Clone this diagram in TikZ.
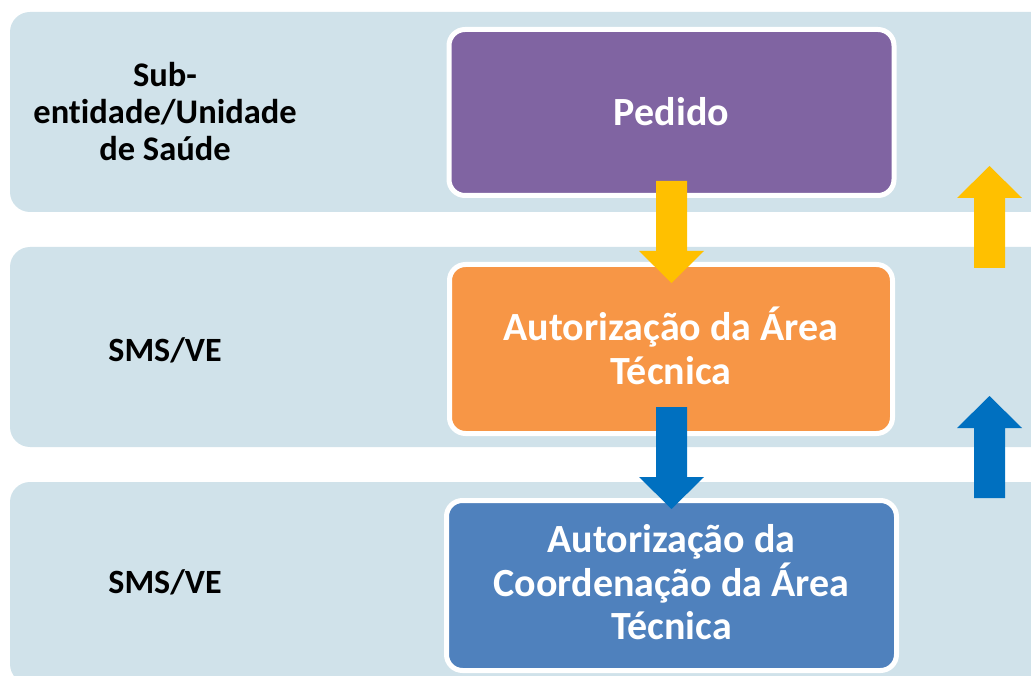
\documentclass[tikz,border=0pt]{standalone}
\usepackage{fontspec}
\setmainfont[Ligatures=NoCommon]{Carlito}
\definecolor{bandc}{RGB}{208,226,234}
\definecolor{purp}{RGB}{128,100,162}
\definecolor{orng}{RGB}{247,150,70}
\definecolor{bluebox}{RGB}{79,129,189}
\definecolor{yarrow}{RGB}{255,192,0}
\definecolor{barrow}{RGB}{0,112,192}
% #1 colour, #2 x centre, #3 shaft end, #4 head base, #5 tip
\newcommand\MyBlockArrow[5]{%
  \fill[#1] (#2-15.5,#3) -- (#2+15.5,#3) -- (#2+15.5,#4) -- (#2+32.5,#4)
    -- (#2,#5) -- (#2-32.5,#4) -- (#2-15.5,#4) -- cycle;}
\begin{document}
\begin{tikzpicture}[x=1pt,y=-1pt,
  band/.style={fill=bandc, rounded corners=20pt},
  stagebox/.style={draw=white, line width=5pt, rounded corners=16pt,
    minimum width=445pt},
  stagetext/.style={align=center, text=white, font=\bfseries\fontsize{40}{43.5}\selectfont},
  lanelabel/.style={align=center, text=black, font=\bfseries\fontsize{34}{37}\selectfont}]
\useasboundingbox (0,0) rectangle (1031,676);
\clip (0,0) rectangle (1031,676);
% lanes
\path[band] (10,12) rectangle (1060,212);
\path[band] (10,247) rectangle (1060,447);
\path[band] (10,482) rectangle (1060,684);
% lane labels
\node[lanelabel, font=\bfseries\fontsize{34.5}{37}\selectfont] (l1) at (165,111.5) {Sub-\\entidade/Unidade\\de Saúde};
\node[lanelabel] (l2) at (165,350) {SMS/VE};
\node[lanelabel] (l3) at (165,582) {SMS/VE};
% stage boxes
\node[stagebox, fill=purp, minimum height=166pt] (pedido) at (671.5,112.5) {};
\node[stagebox, fill=orng, minimum height=169pt, minimum width=443pt] (aut) at (671,349) {};
\node[stagebox, fill=bluebox, minimum height=170pt, minimum width=450pt] (coord) at (671.5,585.5) {};
\node[stagetext] (tpedido) at ([yshift=1pt]pedido.center) {Pedido};
\node[stagetext] (taut) at ([yshift=3pt]aut.center) {Autorização da Área\\Técnica};
\node[stagetext] (tcoord) at ([yshift=3pt]coord.center) {Autorização da\\Coordenação da Área\\Técnica};
% block arrows
\MyBlockArrow{yarrow}{671.5}{181}{251}{283}
\MyBlockArrow{barrow}{671.5}{407}{477}{509}
\MyBlockArrow{yarrow}{989.5}{268}{198}{166}
\MyBlockArrow{barrow}{989.5}{498}{428}{396}
\end{tikzpicture}
\end{document}
